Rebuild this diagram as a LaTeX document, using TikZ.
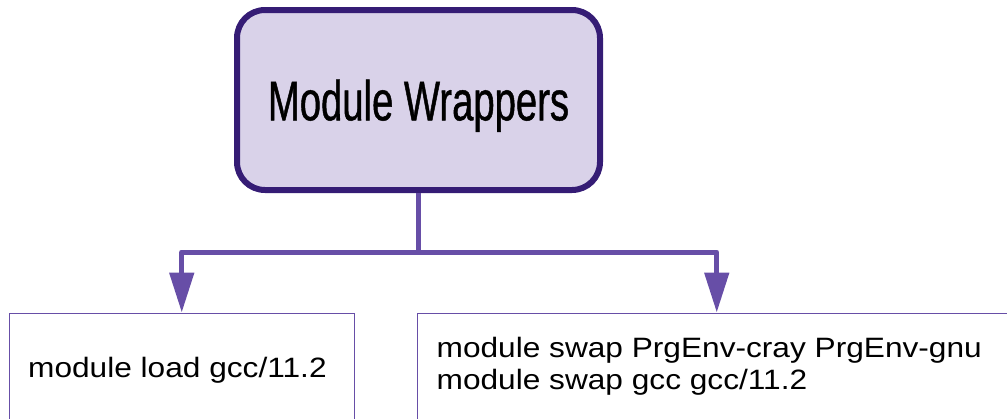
\documentclass[tikz,border=0pt]{standalone}
\usepackage{fontspec}
\usepackage{xcolor}
\usepackage{tikz}
\usetikzlibrary{calc,positioning,arrows.meta}
\setmainfont{Liberation Sans}
\newfontfamily\titlefont{Liberation Sans}[FakeStretch=0.683,FakeBold=0.8]
\newfontfamily\cmdfont{Liberation Sans}[FakeStretch=1.13]
\definecolor{wrapfill}{HTML}{D9D2E9}
\definecolor{wrapline}{HTML}{351C75}
\definecolor{linkcol}{HTML}{674EA7}

\tikzset{
  wrapbox/.style={draw=wrapline, fill=wrapfill, line width=6pt, rounded corners=28pt,
    minimum width=363pt, minimum height=180pt, inner sep=0pt, text depth=0pt,
    font=\titlefont\fontsize{56}{60}\selectfont},
  cmdbox/.style={draw=linkcol, line width=1.5pt, minimum height=130pt, inner sep=0pt, anchor=north west},
  cmdtext/.style={inner sep=0pt, align=left, font=\cmdfont\fontsize{28}{32}\selectfont},
  link/.style={draw=linkcol, line width=5pt, line join=round, -{Triangle[width=24pt,length=40pt]}}
}

\begin{document}
\begin{tikzpicture}[x=1pt,y=-1pt]

\useasboundingbox (0,0) rectangle (1007,418);
\clip (0,0) rectangle (1007,418);

\node [wrapbox] (wrap) at (418.5,100) {Module Wrappers};

% the two command boxes run off the bottom edge
\node [cmdbox, minimum width=345pt] (load) at (8.5,312.5) {};
\node [cmdbox, minimum width=599pt] (swap) at (416.5,312.5) {};

\node [cmdtext, anchor=base west] (loadtxt) at ([xshift=19.5pt,yshift=-64.5pt]load.north west) {module load gcc/11.2};
\node [cmdtext, anchor=west] (swaptxt) at ([xshift=20pt,yshift=-53.5pt]swap.north west)
  {module swap PrgEnv-cray PrgEnv-gnu\\module swap gcc gcc/11.2};

\draw [link] (wrap.south) -- ++(0,59) coordinate (fork) -| (load.north);
\draw [link] (fork) -| (swap.north);

\end{tikzpicture}
\end{document}
